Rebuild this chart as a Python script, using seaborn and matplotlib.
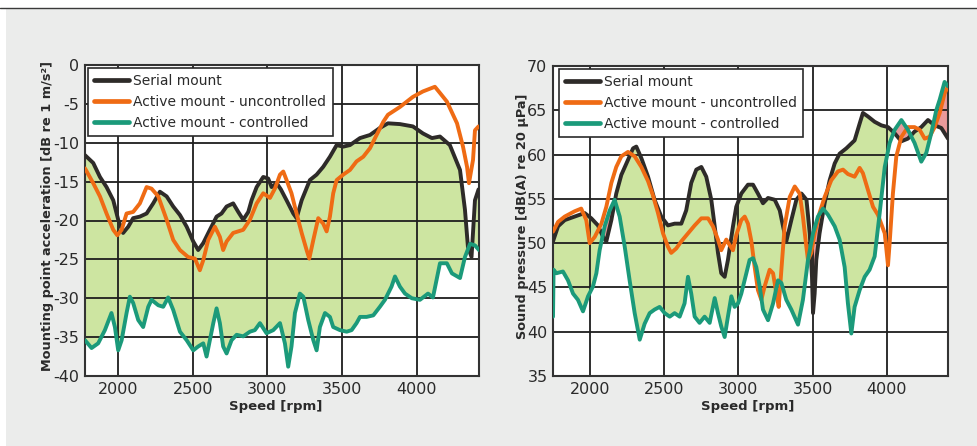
import numpy as np
import matplotlib
matplotlib.use("Agg")
import matplotlib.pyplot as plt
import seaborn as sns
from matplotlib.patches import Polygon, Rectangle
from matplotlib.lines import Line2D

# ---------------- data: left panel (mounting point acceleration) ----------------
L_serial_rpm = [1780, 1835, 1880, 1924, 1969, 2002, 2035, 2069, 2102, 2147, 2192, 2236, 2281, 2326,
                2370, 2415, 2460, 2504, 2537, 2571, 2615, 2660, 2693, 2727, 2771, 2805, 2838, 2872,
                2894, 2928, 2972, 3005, 3028, 3062, 3090, 3128, 3173, 3195, 3229, 3284, 3329, 3373,
                3418, 3463, 3507, 3552, 3619, 3686, 3752, 3806, 3886, 3973, 4040, 4100, 4154, 4220,
                4288, 4321, 4341, 4365, 4388, 4412]
L_serial_db = [-11.6, -12.6, -14.4, -15.7, -17.4, -19.9, -21.6, -20.8, -19.7, -19.5, -19.1, -17.8,
               -16.3, -16.9, -18.2, -19.3, -20.8, -22.7, -23.8, -22.9, -21.2, -19.5, -19.1, -18.2,
               -17.8, -18.9, -19.9, -18.9, -17.4, -15.7, -14.4, -14.6, -15.7, -15.2, -16.0, -17.4,
               -19.1, -19.7, -17.4, -14.8, -14.1, -13.1, -11.8, -10.3, -10.5, -10.3, -9.4, -9.0,
               -8.1, -7.5, -7.6, -7.9, -8.8, -9.4, -9.2, -10.3, -13.5, -18.6, -23.4, -24.7, -17.4,
               -16.0]

L_unctrl_rpm = [1780, 1835, 1880, 1924, 1969, 1996, 2025, 2058, 2102, 2147, 2192, 2225, 2270, 2326,
                2370, 2415, 2470, 2515, 2548, 2571, 2604, 2649, 2682, 2704, 2727, 2771, 2838, 2883,
                2928, 2972, 3017, 3050, 3084, 3106, 3128, 3161, 3195, 3229, 3262, 3280, 3307, 3340,
                3373, 3396, 3418, 3440, 3463, 3507, 3552, 3596, 3641, 3686, 3730, 3775, 3806, 3886,
                3973, 4040, 4120, 4154, 4200, 4268, 4308, 4335, 4348, 4375, 4388, 4412]
L_unctrl_db = [-13.3, -15.2, -16.9, -19.1, -21.2, -21.9, -21.2, -19.1, -18.9, -17.8, -15.7, -15.9,
               -16.9, -19.9, -22.5, -23.8, -24.7, -24.9, -26.4, -25.1, -22.5, -20.8, -22.1, -23.8,
               -22.7, -21.6, -21.2, -19.9, -17.8, -16.5, -17.1, -15.9, -14.1, -13.7, -14.8, -16.5,
               -19.1, -21.6, -23.8, -24.9, -22.5, -19.7, -20.4, -21.4, -19.5, -16.5, -14.8, -14.1,
               -13.5, -12.4, -11.8, -10.7, -9.0, -7.3, -6.4, -5.4, -4.1, -3.4, -2.8, -3.6, -4.7,
               -7.5, -10.5, -13.1, -15.2, -12.2, -8.4, -7.9]

L_ctrl_rpm = [1780, 1824, 1868, 1913, 1957, 1980, 2002, 2025, 2058, 2080, 2102, 2136, 2169, 2203,
              2225, 2270, 2303, 2336, 2370, 2415, 2460, 2504, 2537, 2571, 2593, 2615, 2638, 2660,
              2682, 2704, 2727, 2760, 2794, 2838, 2883, 2916, 2950, 2994, 3039, 3084, 3117, 3139,
              3161, 3184, 3217, 3240, 3273, 3307, 3329, 3351, 3385, 3418, 3440, 3485, 3530, 3563,
              3596, 3619, 3663, 3708, 3752, 3786, 3830, 3853, 3886, 3920, 3966, 4020, 4074, 4107,
              4154, 4200, 4234, 4288, 4321, 4355, 4388, 4415]
L_ctrl_db = [-35.4, -36.4, -35.8, -34.1, -31.9, -33.7, -36.7, -35.4, -31.9, -29.8, -30.6, -32.8,
             -33.7, -31.1, -30.2, -30.9, -31.1, -29.9, -31.5, -34.3, -35.4, -36.7, -36.2, -35.8,
             -37.5, -35.4, -33.2, -31.3, -33.2, -36.2, -37.1, -35.4, -34.7, -34.9, -34.3, -34.1,
             -33.2, -34.5, -34.1, -33.2, -35.8, -38.8, -36.2, -31.9, -29.4, -29.8, -32.8, -35.4,
             -36.7, -33.7, -31.9, -32.4, -33.7, -34.1, -34.3, -34.1, -33.2, -32.4, -32.4, -32.2,
             -31.1, -30.2, -28.5, -27.2, -28.5, -29.4, -30.0, -30.2, -29.4, -29.9, -25.5, -25.5,
             -26.8, -27.4, -24.7, -23.0, -23.2, -23.8]

# ---------------- data: right panel (sound pressure) ----------------
R_serial_rpm = [1751, 1785, 1830, 1897, 1964, 2009, 2054, 2088, 2110, 2144, 2177, 2211, 2256, 2290,
                2312, 2346, 2391, 2435, 2480, 2525, 2570, 2615, 2648, 2682, 2716, 2750, 2783, 2817,
                2840, 2862, 2884, 2907, 2929, 2963, 2985, 3019, 3064, 3098, 3131, 3165, 3199, 3244,
                3278, 3300, 3322, 3356, 3390, 3424, 3458, 3480, 3495, 3502, 3513, 3524, 3546, 3580,
                3614, 3648, 3681, 3726, 3782, 3816, 3838, 3872, 3917, 3962, 4007, 4052, 4097, 4141,
                4186, 4231, 4276, 4321, 4366, 4411]
R_serial_db = [50.2, 51.9, 52.6, 53.0, 53.4, 52.8, 52.0, 50.7, 50.2, 52.6, 55.6, 57.7, 59.4, 60.7,
               60.9, 59.6, 57.5, 54.9, 53.0, 52.0, 52.2, 52.2, 53.7, 56.8, 58.3, 58.6, 57.5, 54.9,
               51.9, 48.9, 46.6, 46.2, 48.1, 51.9, 54.1, 55.6, 56.6, 56.6, 55.6, 54.5, 55.1, 54.9,
               53.7, 51.9, 50.2, 52.6, 54.9, 55.6, 54.9, 51.1, 46.2, 42.1, 44.3, 48.1, 51.1, 54.5,
               57.1, 59.0, 60.1, 60.7, 61.6, 63.5, 64.7, 64.3, 63.7, 63.3, 63.1, 62.4, 61.5, 61.8,
               62.6, 63.1, 63.9, 63.3, 63.0, 61.8]

R_unctrl_rpm = [1751, 1785, 1830, 1897, 1941, 1975, 1998, 2032, 2077, 2110, 2144, 2177, 2211, 2256,
                2301, 2346, 2391, 2424, 2458, 2492, 2525, 2547, 2581, 2615, 2660, 2705, 2750, 2795,
                2828, 2862, 2884, 2918, 2940, 2963, 2985, 3019, 3042, 3064, 3087, 3109, 3131, 3154,
                3176, 3210, 3233, 3255, 3271, 3289, 3311, 3345, 3379, 3412, 3434, 3457, 3468, 3490,
                3513, 3546, 3580, 3625, 3670, 3704, 3737, 3782, 3816, 3838, 3872, 3906, 3939, 3985,
                4007, 4018, 4040, 4063, 4097, 4141, 4186, 4220, 4254, 4287, 4321, 4355, 4388, 4411]
R_unctrl_db = [51.3, 52.4, 53.0, 53.6, 53.9, 52.6, 50.0, 50.7, 52.2, 54.1, 56.8, 58.6, 59.8, 60.3,
               59.8, 58.6, 57.0, 55.4, 53.4, 51.1, 49.6, 48.9, 49.4, 50.2, 51.1, 52.0, 52.8, 52.8,
               51.9, 50.4, 49.2, 50.4, 49.8, 49.2, 50.9, 52.6, 53.0, 52.2, 50.2, 47.3, 44.7, 43.6,
               45.1, 47.0, 46.6, 44.3, 42.8, 47.0, 51.9, 55.2, 56.4, 55.6, 53.0, 49.6, 48.1, 48.9,
               51.1, 53.4, 55.2, 57.1, 58.1, 58.3, 57.8, 57.5, 58.5, 57.9, 56.0, 54.1, 53.2, 51.1,
               47.5, 50.0, 55.6, 59.8, 62.0, 63.1, 63.1, 62.8, 61.8, 62.0, 63.1, 64.7, 66.9, 67.7]

R_ctrl_rpm = [1751, 1755, 1773, 1818, 1852, 1886, 1919, 1953, 1987, 2020, 2043, 2065, 2099, 2133,
              2166, 2200, 2234, 2267, 2301, 2335, 2368, 2402, 2435, 2469, 2503, 2537, 2570, 2604,
              2637, 2660, 2682, 2705, 2738, 2772, 2806, 2840, 2862, 2884, 2907, 2929, 2952, 2974,
              2997, 3019, 3053, 3075, 3098, 3120, 3143, 3165, 3199, 3233, 3266, 3289, 3322, 3356,
              3401, 3434, 3468, 3502, 3535, 3569, 3603, 3648, 3681, 3715, 3737, 3760, 3782, 3816,
              3850, 3883, 3917, 3951, 3985, 4018, 4052, 4097, 4141, 4186, 4231, 4265, 4298, 4332,
              4355, 4388, 4411]
R_ctrl_db = [41.7, 47.0, 46.6, 46.8, 45.8, 44.3, 43.6, 42.3, 44.0, 45.1, 46.6, 49.2, 51.9, 53.7,
             54.9, 53.0, 49.6, 45.8, 42.1, 39.1, 40.9, 42.1, 42.5, 42.8, 42.1, 41.7, 42.1, 41.7,
             43.2, 46.2, 44.3, 41.7, 41.0, 41.7, 41.0, 43.8, 42.1, 40.6, 39.4, 41.7, 44.0, 42.8,
             43.2, 44.3, 46.6, 48.1, 48.3, 47.3, 45.1, 42.5, 41.3, 43.2, 45.8, 45.5, 43.6, 42.5,
             40.8, 43.6, 48.1, 51.1, 53.0, 53.9, 53.2, 51.9, 50.4, 47.3, 43.2, 39.8, 42.8, 44.7,
             46.2, 47.0, 48.5, 53.4, 58.6, 61.3, 62.8, 63.9, 62.8, 61.3, 59.2, 60.2, 62.4, 65.0,
             66.2, 68.2, 67.7]

series_labels = ["Serial mount", "Active mount - uncontrolled", "Active mount - controlled"]
x_ticks = [2000, 2500, 3000, 3500, 4000]
L_yticks = [0, -5, -10, -15, -20, -25, -30, -35, -40]
R_yticks = [70, 65, 60, 55, 50, 45, 40, 35]
x_label = "Speed [rpm]"
L_ylabel = "Mounting point acceleration [dB re 1 m/s²]"
R_ylabel = "Sound pressure [dB(A) re 20 µPa]"

# ---------------- style ----------------
C_SERIAL = "#2e2b29"
C_UNCTRL = "#ef6b14"
C_CTRL = "#1b9a7a"
C_FILL = "#cde5a1"
C_PINK = "#e99a9b"
C_GRID = "#1e1e1e"
C_TEXT = "#2a2a2a"

sns.set_theme(style="white")
plt.rcParams["font.family"] = ["DejaVu Sans"]
plt.rcParams["axes.unicode_minus"] = False

fig = plt.figure(figsize=(9.78, 4.46), dpi=100)
fig.patch.set_facecolor("white")
fig.add_artist(Rectangle((6 / 978, 0), 1, (446 - 9) / 446, transform=fig.transFigure,
                         facecolor="#ebeceb", edgecolor="none", zorder=-10))
fig.add_artist(Line2D([0, 1], [1 - 7.5 / 446] * 2, transform=fig.transFigure,
                      color="#3a3a3a", lw=1.0))

axL = fig.add_axes([85 / 978, (446 - 376) / 446, 394 / 978, 311 / 446])
axR = fig.add_axes([553 / 978, (446 - 376) / 446, 395 / 978, 310 / 446])


def region(ax, x, y, edge):
    x = np.asarray(x, float)
    y = np.asarray(y, float)
    pts = np.column_stack([np.r_[x[0], x, x[-1]], np.r_[edge, y, edge]])
    return Polygon(pts, closed=True, transform=ax.transData)


def panel(ax, xs, ys, xu, yu, xc, yc, xlim, ylim, yticks, ylabel, ylab_x, leg_anchor, xlab_x):
    ax.set_xlim(*xlim)
    ax.set_ylim(*ylim)
    ax.set_facecolor("white")
    lo, hi = min(ylim), max(ylim)
    # green: below serial and above controlled
    f1 = ax.fill_between(xs, ys, lo - 50, color=C_FILL, lw=0, zorder=1)
    f1.set_clip_path(region(ax, xc, yc, hi + 50))
    # pink: above serial and below controlled
    f2 = ax.fill_between(xs, ys, hi + 50, color=C_PINK, lw=0, zorder=1)
    f2.set_clip_path(region(ax, xc, yc, lo - 50))

    for x, y, c, lab in [(xs, ys, C_SERIAL, series_labels[0]),
                         (xu, yu, C_UNCTRL, series_labels[1]),
                         (xc, yc, C_CTRL, series_labels[2])]:
        sns.lineplot(x=x, y=y, ax=ax, color=c, lw=2.8, sort=False, estimator=None,
                     label=lab, zorder=3)

    ax.set_axisbelow("line")
    ax.set_xticks(x_ticks)
    ax.set_yticks(yticks)
    ax.set_yticklabels([str(v) for v in yticks])
    ax.grid(True, color=C_GRID, lw=1.3)
    for s in ax.spines.values():
        s.set_visible(True)
        s.set_color("#333333")
        s.set_linewidth(1.5)
    ax.tick_params(length=0, labelsize=11.5, colors=C_TEXT, pad=4)
    ax.set_xlabel(x_label, fontsize=9.5, fontweight="bold", color=C_TEXT)
    ax.set_ylabel(ylabel, fontsize=9.3, fontweight="bold", color=C_TEXT)
    ax.yaxis.set_label_coords(ylab_x, 0.515)
    ax.xaxis.set_label_coords(xlab_x, -0.078)

    leg = ax.legend(loc="upper left", bbox_to_anchor=leg_anchor, borderaxespad=0,
                    frameon=True, fancybox=False, edgecolor="#2a2a2a", facecolor="white",
                    framealpha=1, fontsize=10, handlelength=2.5, handletextpad=0.3,
                    labelspacing=0.5, borderpad=0.45)
    leg.get_frame().set_linewidth(1.2)
    for t in leg.get_texts():
        t.set_color(C_TEXT)
    for h in leg.get_lines():
        h.set_linewidth(3.4)


panel(axL, L_serial_rpm, L_serial_db, L_unctrl_rpm, L_unctrl_db, L_ctrl_rpm, L_ctrl_db,
      (1780, 4415), (-40, 0), L_yticks, L_ylabel, -0.079, (0.008, 0.99), 0.485)
panel(axR, R_serial_rpm, R_serial_db, R_unctrl_rpm, R_unctrl_db, R_ctrl_rpm, R_ctrl_db,
      (1751, 4411), (35, 70), R_yticks, R_ylabel, -0.061, (0.015, 0.99), 0.494)

fig.savefig("out.png", dpi=100)
